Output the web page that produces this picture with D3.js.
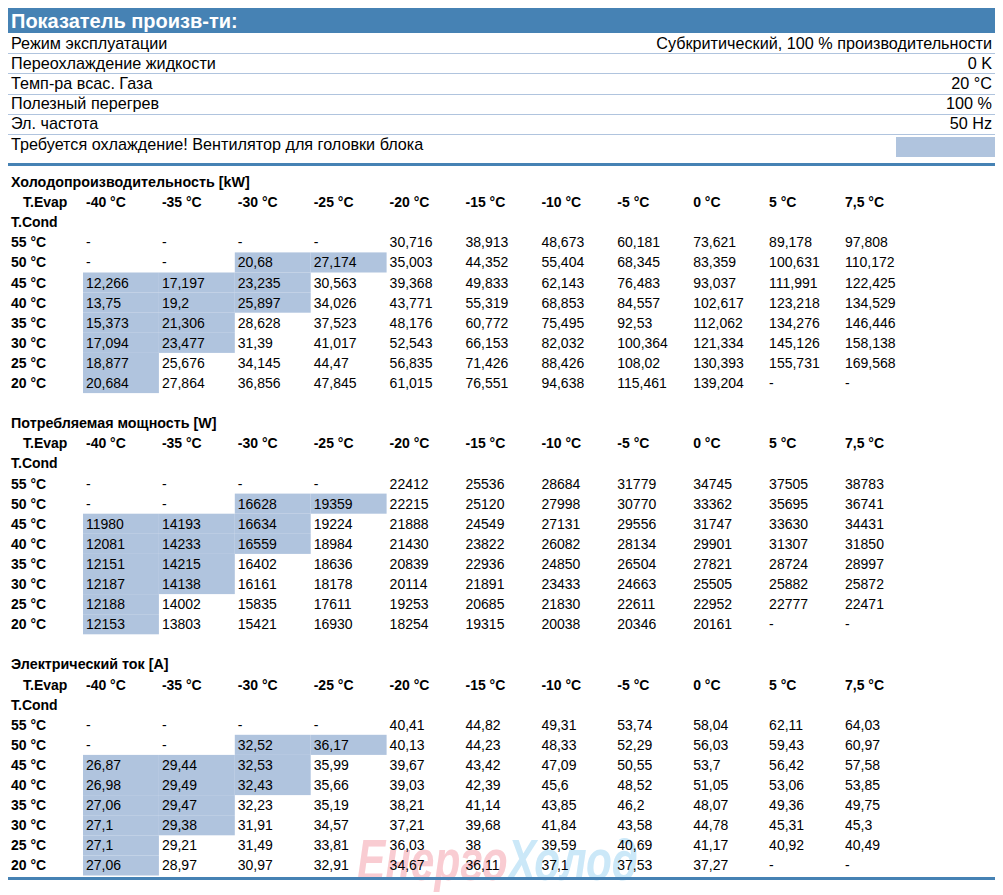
<!DOCTYPE html>
<html>
<head>
<meta charset="utf-8">
<script src="https://cdn.jsdelivr.net/npm/d3@7"></script>
<style>
  body { margin: 0; background: #fff; }
  svg text { font-family: "Liberation Sans", Arial, sans-serif; fill: #000; }
</style>
</head>
<body>
<div id="chart"></div>
<script>
"use strict";

// ---- data ----
const title = "Показатель произв-ти:";
const infoLabels = [
	"Режим эксплуатации",
	"Переохлаждение жидкости",
	"Темп-ра всас. Газа",
	"Полезный перегрев",
	"Эл. частота",
	"Требуется охлаждение! Вентилятор для головки блока",
];
const infoValues = [
	"Субкритический, 100 % производительности",
	"0 K",
	"20 °C",
	"100 %",
	"50 Hz",
	"",
];

const evapTemps = ["-40 °C", "-35 °C", "-30 °C", "-25 °C", "-20 °C", "-15 °C", "-10 °C", "-5 °C", "0 °C", "5 °C", "7,5 °C"];
const condTemps = ["55 °C", "50 °C", "45 °C", "40 °C", "35 °C", "30 °C", "25 °C", "20 °C"];

const sectionTitles = ["Холодопроизводительность [kW]", "Потребляемая мощность [W]", "Электрический ток [A]"];

// null = "-"
const capacity = [
	[null, null, null, null, 30.716, 38.913, 48.673, 60.181, 73.621, 89.178, 97.808],
	[null, null, 20.68, 27.174, 35.003, 44.352, 55.404, 68.345, 83.359, 100.631, 110.172],
	[12.266, 17.197, 23.235, 30.563, 39.368, 49.833, 62.143, 76.483, 93.037, 111.991, 122.425],
	[13.75, 19.2, 25.897, 34.026, 43.771, 55.319, 68.853, 84.557, 102.617, 123.218, 134.529],
	[15.373, 21.306, 28.628, 37.523, 48.176, 60.772, 75.495, 92.53, 112.062, 134.276, 146.446],
	[17.094, 23.477, 31.39, 41.017, 52.543, 66.153, 82.032, 100.364, 121.334, 145.126, 158.138],
	[18.877, 25.676, 34.145, 44.47, 56.835, 71.426, 88.426, 108.02, 130.393, 155.731, 169.568],
	[20.684, 27.864, 36.856, 47.845, 61.015, 76.551, 94.638, 115.461, 139.204, null, null],
];
const power = [
	[null, null, null, null, 22412, 25536, 28684, 31779, 34745, 37505, 38783],
	[null, null, 16628, 19359, 22215, 25120, 27998, 30770, 33362, 35695, 36741],
	[11980, 14193, 16634, 19224, 21888, 24549, 27131, 29556, 31747, 33630, 34431],
	[12081, 14233, 16559, 18984, 21430, 23822, 26082, 28134, 29901, 31307, 31850],
	[12151, 14215, 16402, 18636, 20839, 22936, 24850, 26504, 27821, 28724, 28997],
	[12187, 14138, 16161, 18178, 20114, 21891, 23433, 24663, 25505, 25882, 25872],
	[12188, 14002, 15835, 17611, 19253, 20685, 21830, 22611, 22952, 22777, 22471],
	[12153, 13803, 15421, 16930, 18254, 19315, 20038, 20346, 20161, null, null],
];
const current = [
	[null, null, null, null, 40.41, 44.82, 49.31, 53.74, 58.04, 62.11, 64.03],
	[null, null, 32.52, 36.17, 40.13, 44.23, 48.33, 52.29, 56.03, 59.43, 60.97],
	[26.87, 29.44, 32.53, 35.99, 39.67, 43.42, 47.09, 50.55, 53.7, 56.42, 57.58],
	[26.98, 29.49, 32.43, 35.66, 39.03, 42.39, 45.6, 48.52, 51.05, 53.06, 53.85],
	[27.06, 29.47, 32.23, 35.19, 38.21, 41.14, 43.85, 46.2, 48.07, 49.36, 49.75],
	[27.1, 29.38, 31.91, 34.57, 37.21, 39.68, 41.84, 43.58, 44.78, 45.31, 45.3],
	[27.1, 29.21, 31.49, 33.81, 36.03, 38, 39.59, 40.69, 41.17, 40.92, 40.49],
	[27.06, 28.97, 30.97, 32.91, 34.67, 36.11, 37.1, 37.53, 37.27, null, null],
];
const tables = [capacity, power, current];

// highlighted columns per T.Cond row (same pattern in all tables)
const highlightCols = [[], [2, 3], [0, 1, 2], [0, 1, 2], [0, 1], [0, 1], [0], [0]];

// ---- layout ----
const W = 1003, H = 895;
const left = 8, right = 995;
const blue = "#4682b4";
const lightBlue = "#b0c4de";

const svg = d3.select("#chart")
	.append("svg")
	.attr("width", W)
	.attr("height", H);

// header bar
svg.append("rect")
	.attr("x", left).attr("y", 8)
	.attr("width", right - left).attr("height", 25)
	.attr("fill", blue);
svg.append("text")
	.attr("x", 11).attr("y", 27.5)
	.attr("font-size", "20px")
	.attr("font-weight", "bold")
	.style("fill", "#fff")
	.text(title);

// info rows
const infoY = d3.scaleBand()
	.domain(d3.range(infoLabels.length))
	.range([33, 33 + 20.2 * infoLabels.length]);

const info = svg.append("g").attr("id", "info");
info.selectAll(".sep")
	.data(d3.range(infoLabels.length - 1))
	.enter()
	.append("line")
	.attr("x1", left).attr("x2", right)
	.attr("y1", (d) => Math.round(infoY(d) + infoY.bandwidth()) + 0.5)
	.attr("y2", (d) => Math.round(infoY(d) + infoY.bandwidth()) + 0.5)
	.attr("stroke", lightBlue);

// highlighted box in the last info row
info.append("rect")
	.attr("x", 896)
	.attr("y", infoY(infoLabels.length - 1) + 3)
	.attr("width", right - 896)
	.attr("height", 20)
	.attr("fill", lightBlue);

info.selectAll(".lbl")
	.data(infoLabels)
	.enter()
	.append("text")
	.attr("x", 11)
	.attr("y", (d, i) => infoY(i) + infoY.bandwidth() / 2 + 5.5)
	.attr("font-size", "16.2px")
	.text((d) => d);

info.selectAll(".val")
	.data(infoValues)
	.enter()
	.append("text")
	.attr("x", 992)
	.attr("y", (d, i) => infoY(i) + infoY.bandwidth() / 2 + 5.5)
	.attr("font-size", "16.2px")
	.attr("text-anchor", "end")
	.text((d) => d);

// thick rule under info
svg.append("rect")
	.attr("x", left).attr("y", 163)
	.attr("width", right - left).attr("height", 3)
	.attr("fill", blue);

// watermark (behind the tables)
const wm = svg.append("text")
	.attr("x", 357).attr("y", 880)
	.attr("font-size", "58px")
	.attr("font-weight", "bold")
	.attr("font-style", "italic")
	.attr("font-family", "'DejaVu Sans Condensed', 'DejaVu Sans', sans-serif")
	.attr("textLength", 281)
	.attr("lengthAdjust", "spacingAndGlyphs");
wm.append("tspan").style("fill", "#f9ccd2").text("Енерго");
wm.append("tspan").style("fill", "#cbe8f8").text("Холод");

// tables
const rowsPerSection = 12;
const y = d3.scaleBand()
	.domain(d3.range(rowsPerSection * 3))
	.range([172, 172 + 20.1 * rowsPerSection * 3]);
const x = d3.scaleBand()
	.domain(evapTemps)
	.range([83, 83 + 75.9 * evapTemps.length]);

const fmt = (v) => (v === null ? "-" : String(v).replace(".", ","));
const baseline = (i) => y(i) + y.bandwidth() / 2 + 5;

tables.forEach((table, s) => {
	const r0 = s * rowsPerSection;
	const g = svg.append("g").attr("class", "table");

	// highlight cells
	const cells = [];
	highlightCols.forEach((cols, r) => cols.forEach((c) => cells.push({ r, c })));
	g.selectAll(".hl")
		.data(cells)
		.enter()
		.append("rect")
		.attr("x", (d) => x(evapTemps[d.c]))
		.attr("y", (d) => y(r0 + 3 + d.r))
		.attr("width", x.bandwidth())
		.attr("height", y.bandwidth())
		.attr("fill", lightBlue);

	// section title
	g.append("text")
		.attr("x", 11).attr("y", baseline(r0))
		.attr("font-size", "14.3px")
		.attr("font-weight", "bold")
		.text(sectionTitles[s]);

	// header row
	g.append("text")
		.attr("x", 23).attr("y", baseline(r0 + 1))
		.attr("font-size", "14px")
		.attr("font-weight", "bold")
		.text("T.Evap");
	g.selectAll(".evap")
		.data(evapTemps)
		.enter()
		.append("text")
		.attr("x", (d) => x(d) + 3)
		.attr("y", baseline(r0 + 1))
		.attr("font-size", "14px")
		.attr("font-weight", "bold")
		.text((d) => d);

	g.append("text")
		.attr("x", 11).attr("y", baseline(r0 + 2))
		.attr("font-size", "14px")
		.attr("font-weight", "bold")
		.text("T.Cond");

	// data rows
	const rows = g.selectAll(".row")
		.data(table)
		.enter()
		.append("g")
		.attr("class", "row");

	rows.append("text")
		.attr("x", 11)
		.attr("y", (d, r) => baseline(r0 + 3 + r))
		.attr("font-size", "14px")
		.attr("font-weight", "bold")
		.text((d, r) => condTemps[r]);

	rows.each(function (vals, r) {
		d3.select(this)
			.selectAll(".v")
			.data(vals)
			.enter()
			.append("text")
			.attr("x", (d, c) => x(evapTemps[c]) + 3)
			.attr("y", baseline(r0 + 3 + r))
			.attr("font-size", "14px")
			.text(fmt);
	});
});

// bottom rule
svg.append("rect")
	.attr("x", left).attr("y", 877)
	.attr("width", right - left).attr("height", 3)
	.attr("fill", blue);
</script>
</body>
</html>
